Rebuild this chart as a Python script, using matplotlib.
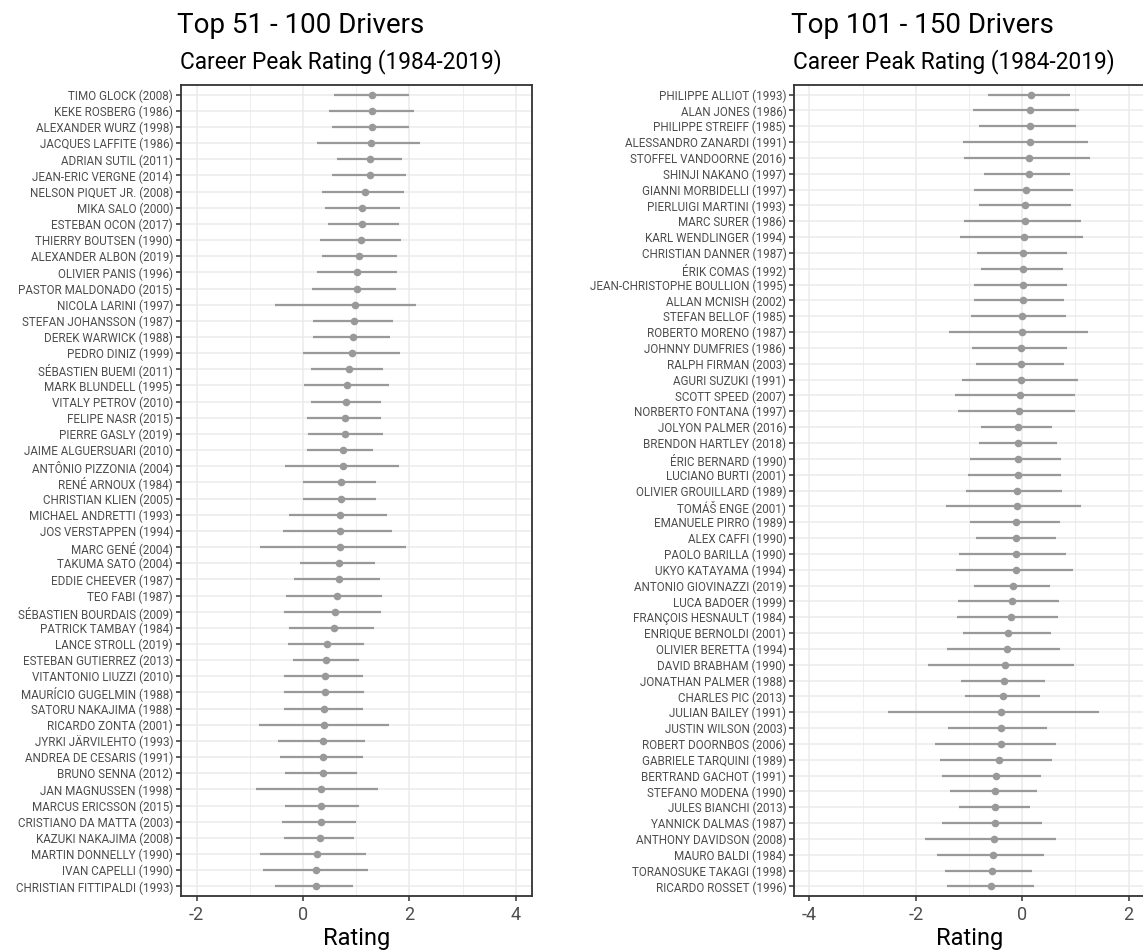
import numpy as np
import matplotlib
matplotlib.use("Agg")
import matplotlib.pyplot as plt

plt.rcParams['font.family'] = ['Roboto', 'DejaVu Sans']

# top 51 - 100
names_a = ["TIMO GLOCK (2008)", "KEKE ROSBERG (1986)", "ALEXANDER WURZ (1998)",
           "JACQUES LAFFITE (1986)", "ADRIAN SUTIL (2011)", "JEAN-ERIC VERGNE (2014)",
           "NELSON PIQUET JR. (2008)", "MIKA SALO (2000)", "ESTEBAN OCON (2017)",
           "THIERRY BOUTSEN (1990)", "ALEXANDER ALBON (2019)", "OLIVIER PANIS (1996)",
           "PASTOR MALDONADO (2015)", "NICOLA LARINI (1997)", "STEFAN JOHANSSON (1987)",
           "DEREK WARWICK (1988)", "PEDRO DINIZ (1999)", "SÉBASTIEN BUEMI (2011)",
           "MARK BLUNDELL (1995)", "VITALY PETROV (2010)", "FELIPE NASR (2015)",
           "PIERRE GASLY (2019)", "JAIME ALGUERSUARI (2010)", "ANTÔNIO PIZZONIA (2004)",
           "RENÉ ARNOUX (1984)", "CHRISTIAN KLIEN (2005)", "MICHAEL ANDRETTI (1993)",
           "JOS VERSTAPPEN (1994)", "MARC GENÉ (2004)", "TAKUMA SATO (2004)",
           "EDDIE CHEEVER (1987)", "TEO FABI (1987)", "SÉBASTIEN BOURDAIS (2009)",
           "PATRICK TAMBAY (1984)", "LANCE STROLL (2019)", "ESTEBAN GUTIERREZ (2013)",
           "VITANTONIO LIUZZI (2010)", "MAURÍCIO GUGELMIN (1988)", "SATORU NAKAJIMA (1988)",
           "RICARDO ZONTA (2001)", "JYRKI JÄRVILEHTO (1993)", "ANDREA DE CESARIS (1991)",
           "BRUNO SENNA (2012)", "JAN MAGNUSSEN (1998)", "MARCUS ERICSSON (2015)",
           "CRISTIANO DA MATTA (2003)", "KAZUKI NAKAJIMA (2008)", "MARTIN DONNELLY (1990)",
           "IVAN CAPELLI (1990)", "CHRISTIAN FITTIPALDI (1993)"]
rating_a = [1.30, 1.29, 1.29, 1.27, 1.25, 1.25, 1.16, 1.10, 1.10, 1.09,
            1.05, 1.01, 1.01, 0.98, 0.96, 0.93, 0.92, 0.86, 0.82, 0.81,
            0.79, 0.79, 0.75, 0.75, 0.72, 0.72, 0.70, 0.70, 0.69, 0.68,
            0.67, 0.63, 0.60, 0.58, 0.45, 0.43, 0.41, 0.41, 0.40, 0.40,
            0.37, 0.37, 0.37, 0.34, 0.34, 0.33, 0.32, 0.26, 0.25, 0.24]
low_a = [0.59, 0.48, 0.54, 0.27, 0.63, 0.55, 0.36, 0.42, 0.47, 0.31,
         0.36, 0.26, 0.17, -0.53, 0.18, 0.19, -0.01, 0.15, 0.01, 0.15,
         0.07, 0.09, 0.08, -0.34, -0.01, -0.01, -0.26, -0.37, -0.81, -0.06,
         -0.17, -0.32, -0.36, -0.27, -0.29, -0.19, -0.36, -0.35, -0.36, -0.83,
         -0.48, -0.43, -0.33, -0.89, -0.34, -0.39, -0.36, -0.81, -0.76, -0.52]
high_a = [2.00, 2.08, 2.00, 2.19, 1.86, 1.94, 1.89, 1.82, 1.80, 1.84,
          1.77, 1.76, 1.75, 2.12, 1.69, 1.64, 1.83, 1.51, 1.61, 1.46,
          1.47, 1.51, 1.32, 1.81, 1.38, 1.38, 1.58, 1.67, 1.94, 1.36,
          1.44, 1.49, 1.47, 1.34, 1.14, 1.05, 1.12, 1.14, 1.12, 1.62,
          1.17, 1.12, 1.01, 1.40, 1.05, 0.99, 0.96, 1.19, 1.22, 0.94]

# top 101 - 150
names_b = ["PHILIPPE ALLIOT (1993)", "ALAN JONES (1986)", "PHILIPPE STREIFF (1985)",
           "ALESSANDRO ZANARDI (1991)", "STOFFEL VANDOORNE (2016)", "SHINJI NAKANO (1997)",
           "GIANNI MORBIDELLI (1997)", "PIERLUIGI MARTINI (1993)", "MARC SURER (1986)",
           "KARL WENDLINGER (1994)", "CHRISTIAN DANNER (1987)", "ÉRIK COMAS (1992)",
           "JEAN-CHRISTOPHE BOULLION (1995)", "ALLAN MCNISH (2002)", "STEFAN BELLOF (1985)",
           "ROBERTO MORENO (1987)", "JOHNNY DUMFRIES (1986)", "RALPH FIRMAN (2003)",
           "AGURI SUZUKI (1991)", "SCOTT SPEED (2007)", "NORBERTO FONTANA (1997)",
           "JOLYON PALMER (2016)", "BRENDON HARTLEY (2018)", "ÉRIC BERNARD (1990)",
           "LUCIANO BURTI (2001)", "OLIVIER GROUILLARD (1989)", "TOMÁŠ ENGE (2001)",
           "EMANUELE PIRRO (1989)", "ALEX CAFFI (1990)", "PAOLO BARILLA (1990)",
           "UKYO KATAYAMA (1994)", "ANTONIO GIOVINAZZI (2019)", "LUCA BADOER (1999)",
           "FRANÇOIS HESNAULT (1984)", "ENRIQUE BERNOLDI (2001)", "OLIVIER BERETTA (1994)",
           "DAVID BRABHAM (1990)", "JONATHAN PALMER (1988)", "CHARLES PIC (2013)",
           "JULIAN BAILEY (1991)", "JUSTIN WILSON (2003)", "ROBERT DOORNBOS (2006)",
           "GABRIELE TARQUINI (1989)", "BERTRAND GACHOT (1991)", "STEFANO MODENA (1990)",
           "JULES BIANCHI (2013)", "YANNICK DALMAS (1987)", "ANTHONY DAVIDSON (2008)",
           "MAURO BALDI (1984)", "TORANOSUKE TAKAGI (1998)", "RICARDO ROSSET (1996)"]
rating_b = [0.17, 0.15, 0.14, 0.14, 0.13, 0.13, 0.08, 0.06, 0.05, 0.03,
            0.02, 0.01, 0.01, 0.01, -0.01, -0.01, -0.02, -0.03, -0.03, -0.05,
            -0.06, -0.07, -0.08, -0.08, -0.08, -0.09, -0.10, -0.11, -0.12, -0.12,
            -0.12, -0.17, -0.19, -0.21, -0.27, -0.29, -0.32, -0.34, -0.36, -0.39,
            -0.39, -0.40, -0.43, -0.49, -0.51, -0.51, -0.52, -0.53, -0.55, -0.56, -0.59]
low_b = [-0.64, -0.93, -0.81, -1.12, -1.10, -0.71, -0.90, -0.82, -1.10, -1.17,
         -0.85, -0.77, -0.91, -0.91, -0.97, -1.37, -0.94, -0.87, -1.13, -1.26,
         -1.21, -0.77, -0.81, -0.99, -1.01, -1.05, -1.43, -0.99, -0.87, -1.19,
         -1.24, -0.90, -1.21, -1.23, -1.11, -1.41, -1.77, -1.15, -1.08, -2.52,
         -1.40, -1.63, -1.55, -1.51, -1.36, -1.19, -1.50, -1.82, -1.61, -1.45, -1.42]
high_b = [0.89, 1.07, 1.02, 1.24, 1.28, 0.90, 0.96, 0.91, 1.11, 1.15,
          0.85, 0.76, 0.85, 0.79, 0.82, 1.23, 0.85, 0.78, 1.04, 0.99,
          0.99, 0.56, 0.66, 0.73, 0.73, 0.75, 1.10, 0.72, 0.63, 0.82,
          0.95, 0.53, 0.69, 0.67, 0.55, 0.72, 0.98, 0.43, 0.34, 1.44,
          0.47, 0.63, 0.56, 0.36, 0.27, 0.14, 0.37, 0.64, 0.41, 0.19, 0.23]

W, H = 1143, 951
fig = plt.figure(figsize=(W / 100, H / 100), dpi=100)

grey = '#999999'


def panel(rect, names, rating, low, high, xlim, ticks, minor, title, subtitle):
    ax = fig.add_axes(rect)
    n = len(names)
    y = np.arange(n)
    ax.hlines(y, low, high, color=grey, lw=1.6, zorder=3)
    ax.scatter(rating, y, s=30, color=grey, zorder=4, linewidths=0)
    ax.set_yticks(y)
    ax.set_yticklabels(names, fontsize=8.4, color='#4D4D4D')
    ax.set_xticks(ticks)
    ax.set_xticklabels([str(t) for t in ticks], fontsize=13, color='#4D4D4D')
    ax.set_xticks(minor, minor=True)
    ax.set_ylim(n - 0.4, -0.6)
    ax.set_xlim(*xlim)
    ax.tick_params(axis='both', which='major', length=3.5, width=1.1, color='#333333')
    ax.tick_params(axis='y', pad=2)
    ax.tick_params(axis='x', which='minor', length=0)
    ax.grid(True, which='major', color='#EBEBEB', lw=1.1, zorder=0)
    ax.grid(True, which='minor', axis='x', color='#EBEBEB', lw=0.6, zorder=0)
    ax.set_axisbelow(True)
    for s in ax.spines.values():
        s.set_color('#333333')
        s.set_linewidth(1.3)
    ax.set_xlabel('Rating', fontsize=17, labelpad=2)
    x0 = rect[0]
    fig.text(x0 - 0.003, 1 - 32.7 / H, title, fontsize=20, va='baseline', ha='left')
    fig.text(x0 - 0.001, 1 - 68.9 / H, subtitle, fontsize=16.3, va='baseline', ha='left')
    return ax


bottom = (H - 896) / H
height = (896 - 85) / H
width = 351.6 / W

panel([180.7 / W, bottom, width, height], names_a, rating_a, low_a, high_a,
      (-2.3, 4.31), [-2, 0, 2, 4], [-1, 1, 3],
      'Top 51 - 100 Drivers', 'Career Peak Rating (1984-2019)')
panel([794 / W, bottom, width, height], names_b, rating_b, low_b, high_b,
      (-4.29, 2.32), [-4, -2, 0, 2], [-3, -1, 1],
      'Top 101 - 150 Drivers', 'Career Peak Rating (1984-2019)')

fig.savefig('out.png', dpi=100)
